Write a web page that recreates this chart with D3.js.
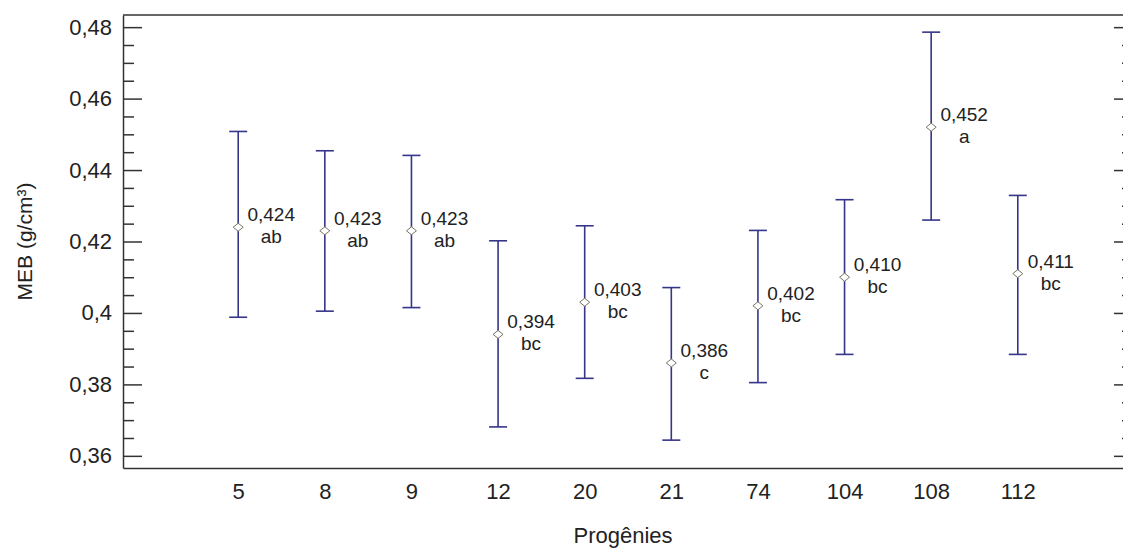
<!DOCTYPE html>
<html>
<head>
<meta charset="utf-8">
<script src="https://cdn.jsdelivr.net/npm/d3@7"></script>
<style>
  body { margin: 0; background: #fff; }
  text { font-family: "Liberation Sans", Arial, sans-serif; fill: #222; }
</style>
</head>
<body>
<div id="chart"></div>
<script>
// progenies and their means with confidence limits
const progenies = ['5', '8', '9', '12', '20', '21', '74', '104', '108', '112'];
const means = [0.424, 0.423, 0.423, 0.394, 0.403, 0.386, 0.402, 0.410, 0.452, 0.411];
const lower = [0.3988, 0.4005, 0.4015, 0.3681, 0.3817, 0.3644, 0.3805, 0.3884, 0.4260, 0.3884];
const upper = [0.4508, 0.4454, 0.4441, 0.4202, 0.4244, 0.4071, 0.4231, 0.4317, 0.4786, 0.4329];
const groups = ['ab', 'ab', 'ab', 'bc', 'bc', 'c', 'bc', 'bc', 'a', 'bc'];
const yTicks = [0.36, 0.38, 0.40, 0.42, 0.44, 0.46, 0.48];

const width = 1123;
const height = 548;
const plotLeft = 123, plotRight = 1133, plotTop = 15, plotBottom = 468;

const fmt = v => String(+v.toFixed(3)).replace('.', ',');

const svg = d3.select('#chart')
  .append('svg')
  .attr('width', width)
  .attr('height', height);

const x = d3.scalePoint()
  .domain(progenies)
  .range([plotLeft, plotRight])
  .padding(1.33);

const y = d3.scaleLinear()
  .domain([0.3566, 0.4834])
  .range([plotBottom, plotTop]);

const minorTicks = d3.range(0.36, 0.4801, 0.005)
  .filter(v => yTicks.every(t => Math.abs(t - v) > 1e-6));

// left axis, ticks pointing inward
svg.append('g')
  .attr('transform', `translate(${plotLeft},0)`)
  .call(d3.axisLeft(y).tickValues(minorTicks).tickSizeInner(-11).tickSizeOuter(0).tickFormat(''))
  .call(g => g.select('.domain').remove());

svg.append('g')
  .attr('transform', `translate(${plotLeft},0)`)
  .call(d3.axisLeft(y).tickValues(yTicks).tickSizeInner(-19).tickSizeOuter(0).tickPadding(11).tickFormat(fmt))
  .call(g => g.selectAll('text').style('font-size', '22px'));

// right axis (mirror)
svg.append('g')
  .attr('transform', `translate(${plotRight},0)`)
  .call(d3.axisRight(y).tickValues(minorTicks).tickSizeInner(-11).tickSizeOuter(0).tickFormat(''));
svg.append('g')
  .attr('transform', `translate(${plotRight},0)`)
  .call(d3.axisRight(y).tickValues(yTicks).tickSizeInner(-19).tickSizeOuter(0).tickFormat(''));

// bottom axis
svg.append('g')
  .attr('transform', `translate(0,${plotBottom})`)
  .call(d3.axisBottom(x).tickSize(0).tickPadding(15))
  .call(g => g.selectAll('text').style('font-size', '22px'));

// top border
svg.append('line')
  .attr('class', 'frame')
  .attr('x1', plotLeft).attr('x2', plotRight)
  .attr('y1', plotTop).attr('y2', plotTop);

svg.selectAll('.domain, .tick line, .frame')
  .attr('stroke', '#333')
  .attr('stroke-width', 1.5);

const cap = 9;
const bars = svg.append('g')
  .selectAll('g')
  .data(progenies)
  .enter()
  .append('g');

bars.append('line')
  .attr('x1', d => x(d)).attr('x2', d => x(d))
  .attr('y1', (d, i) => y(upper[i]))
  .attr('y2', (d, i) => y(lower[i]));
bars.append('line')
  .attr('x1', d => x(d) - cap).attr('x2', d => x(d) + cap)
  .attr('y1', (d, i) => y(upper[i])).attr('y2', (d, i) => y(upper[i]));
bars.append('line')
  .attr('x1', d => x(d) - cap).attr('x2', d => x(d) + cap)
  .attr('y1', (d, i) => y(lower[i])).attr('y2', (d, i) => y(lower[i]));
bars.selectAll('line')
  .attr('stroke', '#35358a')
  .attr('stroke-width', 1.6);

bars.append('path')
  .attr('d', (d, i) => {
    const cx = x(d), cy = y(means[i]);
    return `M${cx - 5},${cy}L${cx},${cy - 4}L${cx + 5},${cy}L${cx},${cy + 4}Z`;
  })
  .attr('fill', '#fff')
  .attr('stroke', '#7a7466')
  .attr('stroke-width', 1);

bars.append('text')
  .attr('x', d => x(d) + 33)
  .attr('y', (d, i) => y(means[i]) - 6)
  .attr('text-anchor', 'middle')
  .style('font-size', '19px')
  .text((d, i) => means[i].toFixed(3).replace('.', ','));

bars.append('text')
  .attr('x', d => x(d) + 33)
  .attr('y', (d, i) => y(means[i]) + 16)
  .attr('text-anchor', 'middle')
  .style('font-size', '19px')
  .text((d, i) => groups[i]);

// axis titles
svg.append('text')
  .attr('x', (plotLeft + plotRight) / 2 - 5)
  .attr('y', 543)
  .attr('text-anchor', 'middle')
  .style('font-size', '22px')
  .text('Progênies');

svg.append('text')
  .attr('transform', `translate(32,${(plotTop + plotBottom) / 2}) rotate(-90)`)
  .attr('text-anchor', 'middle')
  .style('font-size', '21px')
  .text('MEB (g/cm³)');
</script>
</body>
</html>
